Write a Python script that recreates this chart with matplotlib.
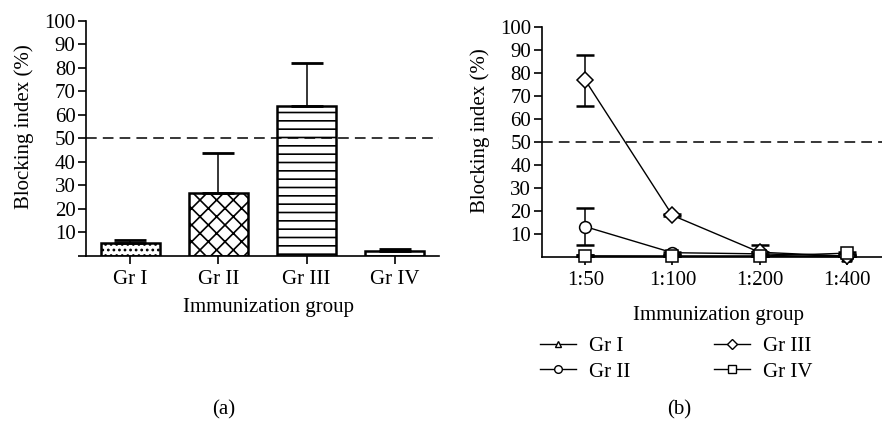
import matplotlib
matplotlib.use("Agg")
import matplotlib.pyplot as plt
import numpy as np

# ---- data ----
groups = ["Gr I", "Gr II", "Gr III", "Gr IV"]
bar_means = [5.5, 26.5, 63.8, 1.8]
bar_err_up = [1.2, 17.3, 18.3, 1.2]
bar_hatches = ["...", "xx", "--", ""]

dilutions = ["1:50", "1:100", "1:200", "1:400"]
gr1 = [0.5, 0.5, 0.5, 0.3]
gr2 = [13.3, 2.0, 1.5, 0.5]
gr3 = [76.8, 18.2, 2.2, 0.5]
gr4 = [0.6, 0.5, 0.5, 1.8]
gr1_err = [0.3, 0.3, 0.3, 0.3]
gr2_err = [8.0, 0.5, 1.0, 0.5]
gr3_err = [11.0, 0.5, 3.3, 0.5]
gr4_err = [0.3, 0.3, 0.3, 0.5]
yticks = [10, 20, 30, 40, 50, 60, 70, 80, 90, 100]

plt.rcParams["font.family"] = ["Liberation Serif", "DejaVu Serif"]
plt.rcParams["hatch.linewidth"] = 1.2
FS = 15

W, H = 882, 421
fig = plt.figure(figsize=(W / 100, H / 100), dpi=100)

def frac(x0, x1, ytop, ybot):
    return [x0 / W, 1 - ybot / H, (x1 - x0) / W, (ybot - ytop) / H]

def style(ax):
    for s in ["top", "right"]:
        ax.spines[s].set_visible(False)
    for s in ["left", "bottom"]:
        ax.spines[s].set_linewidth(1.2)
    ax.tick_params(axis="both", direction="out", length=6, width=1.2,
                   labelsize=FS, pad=1.5)

# ---- panel (a) ----
axa = fig.add_axes(frac(86, 439, 20.7, 255.7))
style(axa)
x = np.arange(len(groups))
for i in range(len(groups)):
    axa.bar(x[i], bar_means[i], width=0.67, color="white", edgecolor="black",
            linewidth=1.8, hatch=bar_hatches[i], zorder=2)
axa.errorbar(x, bar_means, yerr=[np.zeros(len(x)), bar_err_up], fmt="none",
             ecolor="black", elinewidth=1.1, capsize=11.5, capthick=2, zorder=3)
axa.axhline(50, color="black", linestyle=(0, (7, 4)), linewidth=1.1, zorder=4)
axa.set_xlim(-0.5, 3.5)
axa.set_ylim(0, 100)
axa.set_yticks([0] + yticks)
axa.set_yticklabels([""] + [str(v) for v in yticks])
axa.set_xticks(x)
axa.set_xticklabels(groups)
axa.set_ylabel("Blocking index (%)", fontsize=FS)
axa.yaxis.set_label_coords(-0.147, 0.548)
axa.set_xlabel("Immunization group", fontsize=FS)
axa.xaxis.set_label_coords(0.518, -0.18)
axa.tick_params(axis="x", pad=4)

# ---- panel (b) ----
axb = fig.add_axes(frac(541.7, 881.5, 26.7, 257.3))
style(axb)
xb = np.arange(len(dilutions))
series = [("Gr I", gr1, gr1_err, "^", 7.5),
          ("Gr II", gr2, gr2_err, "o", 8.5),
          ("Gr III", gr3, gr3_err, "D", 8.5),
          ("Gr IV", gr4, gr4_err, "s", 8.5)]
handles = []
for name, vals, errs, mk, ms in series:
    axb.errorbar(xb, vals, yerr=errs, fmt="none", ecolor="black",
                 elinewidth=1.1, capsize=6.5, capthick=1.8, zorder=2)
    axb.plot(xb, vals, color="black", linewidth=1.0, marker=mk, markersize=ms,
             markerfacecolor="white", markeredgecolor="black",
             markeredgewidth=1.1, zorder=3, clip_on=False)
    h, = axb.plot([], [], color="black", linewidth=1.0, marker=mk,
                  markersize=ms * 0.65, markerfacecolor="white",
                  markeredgecolor="black", markeredgewidth=1.0, label=name)
    handles.append(h)
axb.axhline(50, color="black", linestyle=(0, (7, 4)), linewidth=1.1, zorder=1)
axb.set_xlim(-0.5, 3.4)
axb.set_ylim(0, 100)
axb.set_yticks(yticks)
axb.set_xticks(xb)
axb.set_xticklabels(dilutions)
axb.set_ylabel("Blocking index (%)", fontsize=FS)
axb.yaxis.set_label_coords(-0.152, 0.548)
axb.set_xlabel("Immunization group", fontsize=FS)
axb.xaxis.set_label_coords(0.521, -0.21)
axb.tick_params(axis="x", pad=4)

leg = fig.legend(handles=handles, ncol=2, frameon=False, fontsize=FS,
                 loc="center", bbox_to_anchor=(676 / W, 1 - 359 / H),
                 handlelength=1.75, handletextpad=0.6, columnspacing=4.0,
                 labelspacing=0.3, borderaxespad=0)

fig.text(224 / W, 1 - 410 / H, "(a)", ha="center", va="center", fontsize=FS)
fig.text(679 / W, 1 - 410 / H, "(b)", ha="center", va="center", fontsize=FS)

fig.savefig("out.png", dpi=100)
